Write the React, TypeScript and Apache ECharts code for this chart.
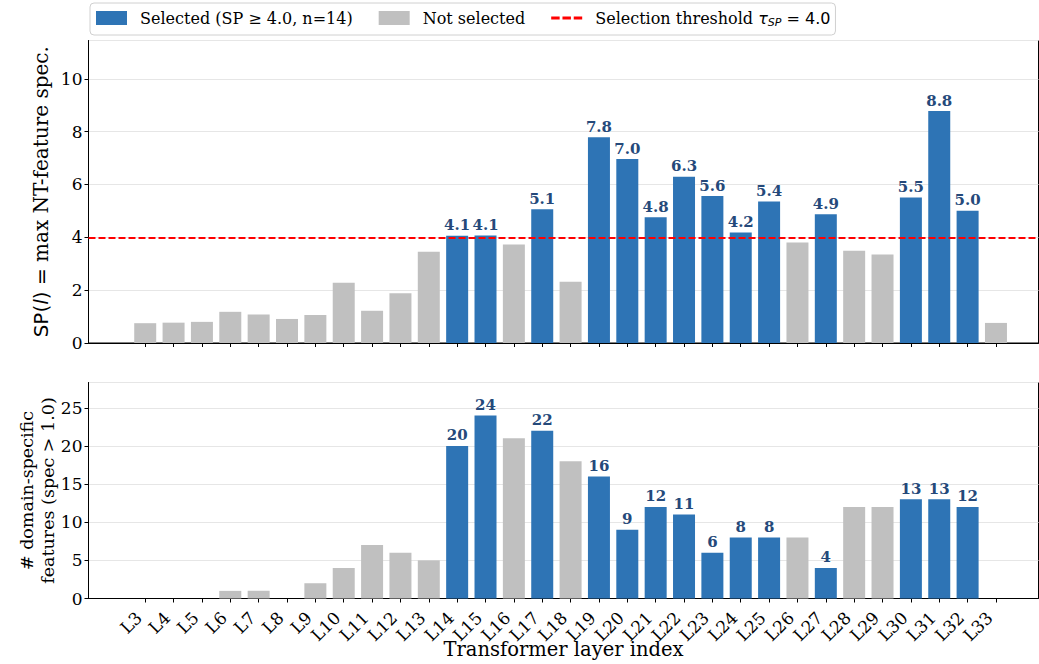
import React, { useEffect, useRef } from 'react';
import * as echarts from 'echarts';

const layerLabels = ['L3', 'L4', 'L5', 'L6', 'L7', 'L8', 'L9', 'L10', 'L11', 'L12', 'L13', 'L14', 'L15', 'L16', 'L17', 'L18', 'L19', 'L20', 'L21', 'L22', 'L23', 'L24', 'L25', 'L26', 'L27', 'L28', 'L29', 'L30', 'L31', 'L32', 'L33'];
const layerIndex = [3, 4, 5, 6, 7, 8, 9, 10, 11, 12, 13, 14, 15, 16, 17, 18, 19, 20, 21, 22, 23, 24, 25, 26, 27, 28, 29, 30, 31, 32, 33];
const spValues = [0.75, 0.77, 0.8, 1.18, 1.08, 0.91, 1.06, 2.28, 1.22, 1.88, 3.45, 4.06, 4.07, 3.73, 5.06, 2.32, 7.79, 6.96, 4.76, 6.29, 5.56, 4.18, 5.36, 3.8, 4.87, 3.49, 3.35, 5.51, 8.78, 5.01, 0.76];
const domainCounts = [0, 0, 0, 1, 1, 0, 2, 4, 7, 6, 5, 20, 24, 21, 22, 18, 16, 9, 12, 11, 6, 8, 8, 8, 4, 12, 12, 13, 13, 12, 0];
const threshold = 4.0;
const spTicks = { min: 0, max: 11.45, interval: 2 };
const countTicks = { min: 0, max: 28.32, interval: 5 };

const SEL = 'Selected (SP ≥ 4.0, n=14)';
const NOT = 'Not selected';
const THR = 'Selection threshold';

const BLUE = '#2e74b5';
const GRAY = '#c0c0c0';
const LABEL_BLUE = '#25497a';
const SERIF = 'DejaVu Serif';
const DASH_ICON = 'path://M0,0h9v3h-9z M12,0h9v3h-9z M24,0h9v3h-9z';

export default function App() {
  const ref = useRef<HTMLDivElement>(null);

  useEffect(() => {
    const chart = echarts.init(ref.current as HTMLDivElement, null, { renderer: 'svg' });
    const selected = spValues.map((v) => v >= threshold);
    const pick = (vals: number[], want: boolean) =>
      layerIndex.map((x, i) => (selected[i] === want ? [x, vals[i]] : null)).filter((d) => d !== null);

    const labelFor = (v: number) => {
      const i = layerIndex.indexOf(Math.round(v));
      return i >= 0 ? layerLabels[i] : '';
    };

    const barCommon = {
      type: 'bar',
      barWidth: 22,
      barGap: '-100%',
    };

    const valueLabel = (digits: number) => ({
      show: true,
      position: 'top',
      distance: 3,
      fontFamily: SERIF,
      fontWeight: 'bold',
      fontSize: 15,
      color: LABEL_BLUE,
      formatter: (p: any) => Number(p.value[1]).toFixed(digits),
    });

    const xAxisBase = (grid: number) => ({
      type: 'value',
      gridIndex: grid,
      min: 1,
      max: 34.5,
      axisLine: { show: true, onZero: false, lineStyle: { color: '#000', width: 1 } },
      axisTick: { show: true, customValues: layerIndex, length: 4, lineStyle: { color: '#000' } },
      splitLine: { show: false },
    });

    const yAxisBase = (grid: number, t: { min: number; max: number; interval: number }) => ({
      type: 'value',
      gridIndex: grid,
      min: t.min,
      max: t.max,
      interval: t.interval,
      axisLine: { show: true, lineStyle: { color: '#000', width: 1 } },
      axisTick: { show: true, length: 4, lineStyle: { color: '#000' } },
      axisLabel: { fontFamily: SERIF, fontSize: 17, color: '#000', margin: 6, showMaxLabel: false },
      splitLine: { show: true, lineStyle: { color: '#e6e6e6', width: 1 } },
    });

    const option: any = {
      animation: false,
      backgroundColor: '#fff',
      legend: {
        left: 90,
        top: 3,
        orient: 'horizontal',
        itemWidth: 31,
        itemHeight: 14,
        itemGap: 26,
        padding: [7, 5, 7, 6],
        borderColor: '#d0d0d0',
        borderWidth: 1,
        borderRadius: 4,
        data: [
          { name: SEL, icon: 'rect' },
          { name: NOT, icon: 'rect' },
          { name: THR, icon: DASH_ICON },
        ],
        formatter: (name: string) =>
          name === THR ? 'Selection threshold {t|τ}{s|SP}{m| = 4.0}' : name,
        textStyle: {
          fontFamily: SERIF,
          fontSize: 16,
          color: '#000',
          padding: [0, 0, 0, 8],
          rich: {
            t: { fontFamily: 'DejaVu Sans', fontStyle: 'italic', fontSize: 16, color: '#000' },
            s: { fontFamily: 'DejaVu Sans', fontStyle: 'italic', fontSize: 11, color: '#000', padding: [9, 0, 0, 0] },
            m: { fontFamily: 'DejaVu Sans', fontSize: 16, color: '#000' },
          },
        },
      },
      grid: [
        { left: 88.5, top: 40.5, width: 950, height: 302.5, outerBoundsMode: 'none', containLabel: false, show: true, borderColor: '#000', borderWidth: 1, backgroundColor: 'transparent' },
        { left: 88.5, top: 382.5, width: 950, height: 216, outerBoundsMode: 'none', containLabel: false, show: true, borderColor: '#000', borderWidth: 1, backgroundColor: 'transparent' },
      ],
      xAxis: [
        { ...xAxisBase(0), axisLabel: { show: false } },
        {
          ...xAxisBase(1),
          axisLabel: {
            show: true,
            customValues: layerIndex,
            rotate: 45,
            margin: 10,
            padding: [0, 9, 0, 0],
            fontFamily: SERIF,
            fontSize: 17,
            color: '#000',
            formatter: (v: number) => labelFor(v),
          },
          name: 'Transformer layer index',
          nameLocation: 'middle',
          nameGap: 41,
          nameMoveOverlap: false,
          nameTextStyle: { fontFamily: SERIF, fontSize: 19.5, color: '#000' },
        },
      ],
      yAxis: [
        {
          ...yAxisBase(0, spTicks),
          name: '{s|SP(}{i|l}{s|) =} max NT-feature spec.',
          nameLocation: 'middle',
          nameGap: 38,
          nameMoveOverlap: false,
          nameTextStyle: {
            fontFamily: SERIF,
            fontSize: 20,
            color: '#000',
            rich: {
              s: { fontFamily: 'DejaVu Sans', fontSize: 20, color: '#000' },
              i: { fontFamily: 'DejaVu Sans', fontStyle: 'italic', fontSize: 20, color: '#000' },
            },
          },
        },
        {
          ...yAxisBase(1, countTicks),
          name: '# domain-specific\nfeatures (spec > 1.0)',
          nameLocation: 'middle',
          nameGap: 30,
          nameMoveOverlap: false,
          nameTextStyle: { fontFamily: SERIF, fontSize: 17.5, lineHeight: 21, color: '#000', align: 'center' },
        },
      ],
      series: [
        { ...barCommon, name: SEL, xAxisIndex: 0, yAxisIndex: 0, color: BLUE, itemStyle: { color: BLUE }, data: pick(spValues, true), label: valueLabel(1) },
        { ...barCommon, name: NOT, xAxisIndex: 0, yAxisIndex: 0, color: GRAY, itemStyle: { color: GRAY }, data: pick(spValues, false) },
        { ...barCommon, name: SEL, xAxisIndex: 1, yAxisIndex: 1, color: BLUE, itemStyle: { color: BLUE }, data: pick(domainCounts, true), label: valueLabel(0) },
        { ...barCommon, name: NOT, xAxisIndex: 1, yAxisIndex: 1, color: GRAY, itemStyle: { color: GRAY }, data: pick(domainCounts, false) },
        {
          type: 'line',
          name: THR,
          xAxisIndex: 0,
          yAxisIndex: 0,
          data: [],
          symbol: 'none',
          color: '#ff0000',
          itemStyle: { color: '#ff0000' },
          lineStyle: { color: '#ff0000', type: [7, 3], width: 2 },
          z: 10,
          markLine: {
            silent: true,
            symbol: ['none', 'none'],
            label: { show: false },
            lineStyle: { color: '#ff0000', type: [7, 3], width: 1.8 },
            data: [{ yAxis: threshold }],
          },
        },
      ],
    };

    chart.setOption(option);
    return () => chart.dispose();
  }, []);

  return <div ref={ref} style={{ position: 'absolute', left: 0, top: 0, width: 1039, height: 664 }} />;
}
